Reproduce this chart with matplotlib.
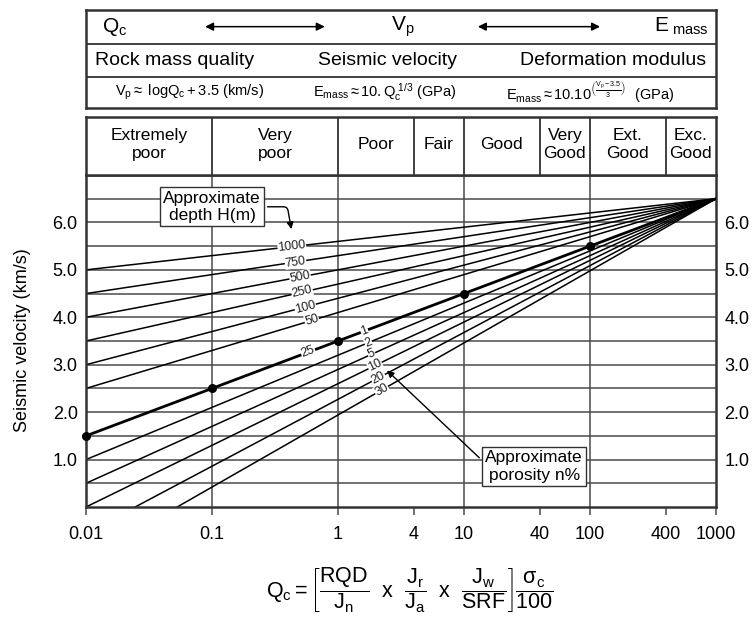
import numpy as np
import matplotlib
matplotlib.use('Agg')
import matplotlib.pyplot as plt

plt.rcParams['font.family'] = ['Liberation Sans', 'DejaVu Sans']
plt.rcParams['mathtext.fontset'] = 'custom'
plt.rcParams['mathtext.rm'] = 'Liberation Sans'
plt.rcParams['mathtext.it'] = 'Liberation Sans'
plt.rcParams['mathtext.bf'] = 'Liberation Sans:bold'

# data
q_ticks = [0.01, 0.1, 1, 4, 10, 40, 100, 400, 1000]
q_tick_labels = ['0.01', '0.1', '1', '4', '10', '40', '100', '400', '1000']
vp_ticks = [1.0, 2.0, 3.0, 4.0, 5.0, 6.0]

class_edges = [0.01, 0.1, 1, 4, 10, 40, 100, 400, 1000]
class_names = ['Extremely\npoor', 'Very\npoor', 'Poor', 'Fair', 'Good',
               'Very\nGood', 'Ext.\nGood', 'Exc.\nGood']

q_end = 1000
vp_end = 6.5

# depth lines (above the 25 m / 1 % line), Vp at Q = 0.01
depth_labels = ['1000', '750', '500', '250', '100', '50']
depth_vp0 = [5.0, 4.5, 4.0, 3.5, 3.0, 2.5]
depth_label_q = [0.43, 0.46, 0.50, 0.52, 0.55, 0.62]

# central line: Vp = log Qc + 3.5
central_vp0 = 1.5
dot_q = [0.01, 0.1, 1, 10, 100]
dot_vp = [1.5, 2.5, 3.5, 4.5, 5.5]

# porosity lines (below), Vp at Q = 0.01
poro_labels = ['2', '5', '10', '20', '30']
poro_vp0 = [1.0, 0.5, 0.0, -0.55, -1.1]
poro_label_q = [1.74, 1.85, 1.97, 2.09, 2.22]

W, H = 754, 622
fig = plt.figure(figsize=(W / 100, H / 100), dpi=100)

def box(l, t, r, b):
    return [l / W, 1 - b / H, (r - l) / W, (b - t) / H]

L, R = 86, 716
ax = fig.add_axes(box(L, 175, R, 507))
ax.set_xscale('log')
ax.set_xlim(0.01, 1000)
ax.set_ylim(0, 7)

gcol = '#4a4a4a'
for v in np.arange(0.5, 7.0, 0.5):
    ax.axhline(v, color=gcol, lw=1.1, zorder=1)
for q in [0.1, 1, 10, 100]:
    ax.axvline(q, color=gcol, lw=1.1, zorder=1)

def label_on_line(q, v0, text):
    v = v0 + (vp_end - v0) * (np.log10(q) + 2) / 5
    p1 = ax.transData.transform((0.01, v0))
    p2 = ax.transData.transform((q_end, vp_end))
    ang = np.degrees(np.arctan2(p2[1] - p1[1], p2[0] - p1[0]))
    ax.text(q, v, text, fontsize=9, rotation=ang, rotation_mode='anchor',
            ha='center', va='center', zorder=4, color='#222',
            bbox=dict(fc='white', ec='none', pad=0.3))

for v0, lab, ql in zip(depth_vp0, depth_labels, depth_label_q):
    ax.plot([0.01, q_end], [v0, vp_end], color='black', lw=1.1, zorder=2)
    label_on_line(ql, v0, lab)

ax.plot([0.01, q_end], [central_vp0, vp_end], color='black', lw=2, zorder=3)
label_on_line(0.58, central_vp0, '25')
label_on_line(1.62, central_vp0, '1')
ax.plot(dot_q, dot_vp, 'o', color='black', ms=5.5, zorder=5, clip_on=False)

for v0, lab, ql in zip(poro_vp0, poro_labels, poro_label_q):
    ax.plot([0.01, q_end], [v0, vp_end], color='black', lw=1.1, zorder=2)
    label_on_line(ql, v0, lab)

ax.set_xticks(q_ticks)
ax.set_xticklabels(q_tick_labels)
ax.xaxis.set_minor_locator(matplotlib.ticker.NullLocator())
ax.set_yticks(vp_ticks)
ax.set_yticklabels(['%.1f' % v for v in vp_ticks])
ax.tick_params(axis='x', direction='out', length=6, width=1.1, color=gcol,
               labelsize=13, pad=8)
ax.tick_params(axis='y', length=0, labelsize=13, pad=6, labelright=True)
for s in ax.spines.values():
    s.set_linewidth(1.8)
    s.set_color('#333')

ax.annotate('Approximate\ndepth H(m)', xy=(0.43, 5.8), xytext=(0.1, 6.33),
            fontsize=12.5, ha='center', va='center', zorder=6,
            bbox=dict(boxstyle='square,pad=0.2', fc='white', ec='#333', lw=1),
            arrowprops=dict(arrowstyle='-|>', color='black', lw=1,
                            relpos=(1, 0.5), mutation_scale=10,
                            connectionstyle='angle,angleA=0,angleB=100,rad=4'))
ax.annotate('Approximate\nporosity n%', xy=(2.36, 2.92), xytext=(36, 0.85),
            fontsize=12.5, ha='center', va='center', zorder=6,
            bbox=dict(boxstyle='square,pad=0.2', fc='white', ec='#333', lw=1),
            arrowprops=dict(arrowstyle='-|>', color='black', lw=1,
                            relpos=(0, 0.6), mutation_scale=10))

fig.text(0.03, 1 - 340 / H, 'Seismic velocity (km/s)', rotation=90,
         ha='center', va='center', fontsize=13)

# rock class row
cax = fig.add_axes(box(L, 117, R, 175))
cax.set_xscale('log')
cax.set_xlim(0.01, 1000)
cax.set_ylim(0, 1)
cax.set_xticks([])
cax.set_yticks([])
cax.xaxis.set_minor_locator(matplotlib.ticker.NullLocator())
for s in cax.spines.values():
    s.set_linewidth(1.8)
    s.set_color('#333')
for e in class_edges[1:-1]:
    cax.axvline(e, color='#333', lw=1.3)
for a, b, name in zip(class_edges[:-1], class_edges[1:], class_names):
    cax.text(np.sqrt(a * b), 0.52, name, ha='center', va='center',
             fontsize=12.5, linespacing=1.25)

# header box
hax = fig.add_axes(box(L, 10, R, 108))
hax.set_xlim(0, 1)
hax.set_ylim(0, 1)
hax.set_xticks([])
hax.set_yticks([])
for s in hax.spines.values():
    s.set_linewidth(1.8)
    s.set_color('#333')
hax.axhline(0.653, color='#333', lw=1.3)
hax.axhline(0.316, color='#333', lw=1.3)

hax.text(0.046, 0.83, r'$\mathrm{Q_c}$', ha='center', va='center', fontsize=15)
hax.text(0.503, 0.83, r'$\mathrm{V_p}$', ha='center', va='center', fontsize=15)
hax.text(0.945, 0.83, r'$\mathrm{E_{\ mass}}$', ha='center', va='center', fontsize=15)
for x0, x1 in [(0.189, 0.379), (0.622, 0.816)]:
    hax.annotate('', xy=(x1, 0.83), xytext=(x0, 0.83),
                 arrowprops=dict(arrowstyle='<|-|>', color='black', lw=1.1,
                                 mutation_scale=12, shrinkA=0, shrinkB=0))

hax.text(0.014, 0.485, 'Rock mass quality', ha='left', va='center', fontsize=14)
hax.text(0.479, 0.485, 'Seismic velocity', ha='center', va='center', fontsize=14)
hax.text(0.985, 0.485, 'Deformation modulus', ha='right', va='center', fontsize=14)

hax.text(0.165, 0.158, r'$\mathrm{V_p \approx\ log Q_c + 3.5\ (km/s)}$',
         ha='center', va='center', fontsize=10.5)
hax.text(0.475, 0.158, r'$\mathrm{E_{mass} \approx 10.Q_c^{\ 1/3}\ (GPa)}$',
         ha='center', va='center', fontsize=10.5)
hax.text(0.80, 0.158, r'$\mathrm{E_{mass} \approx 10.10^{\left(\frac{V_p - 3.5}{3}\right)}\ \ (GPa)}$',
         ha='center', va='center', fontsize=10.5)

fig.text(0.544, 1 - 590 / H,
         r'$\mathrm{Q_c = \left[\dfrac{RQD}{J_n}\ \ x\ \ \dfrac{J_r}{J_a}\ \ x\ \ \dfrac{J_w}{SRF}\right]\dfrac{\sigma_c}{100}}$',
         ha='center', va='center', fontsize=15.5)

fig.savefig('out.png', dpi=100, facecolor='white')
